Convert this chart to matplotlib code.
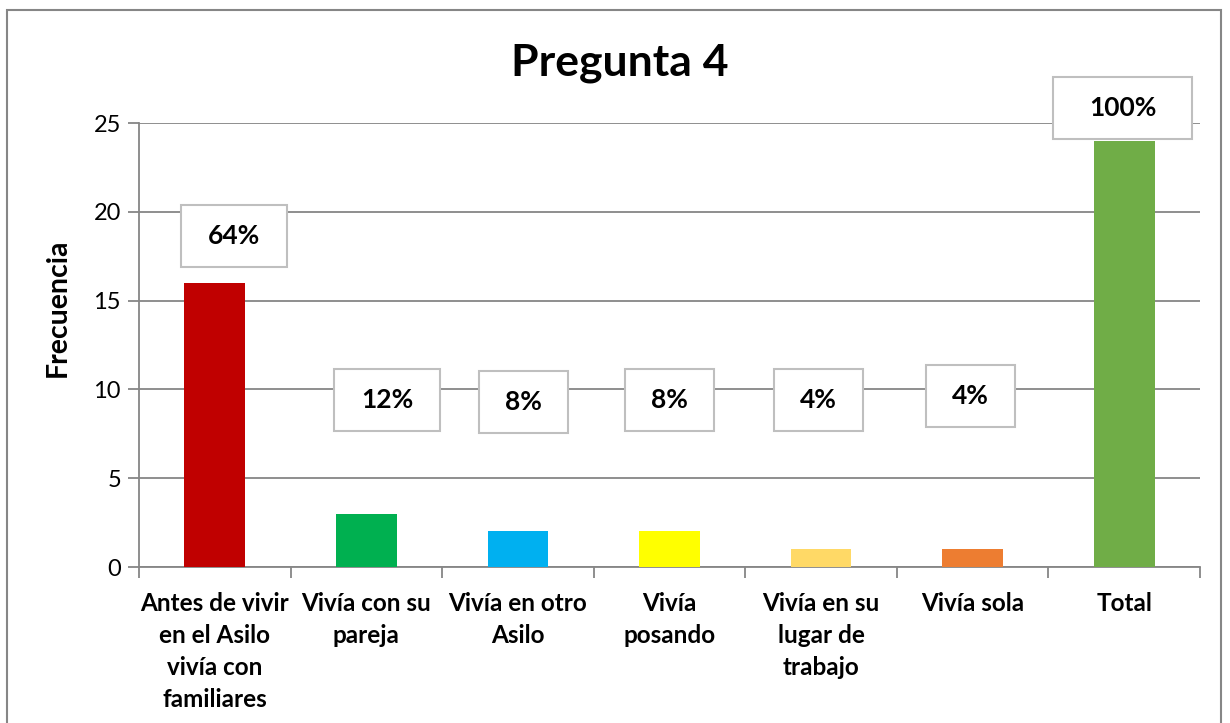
import matplotlib
matplotlib.use("Agg")
import matplotlib.pyplot as plt
from matplotlib.patches import Rectangle

categories = ["Antes de vivir\nen el Asilo\nvivía con\nfamiliares", "Vivía con su\npareja",
              "Vivía en otro\nAsilo", "Vivía\nposando", "Vivía en su\nlugar de\ntrabajo",
              "Vivía sola", "Total"]
values = [16, 3, 2, 2, 1, 1, 24]
percent_labels = ["64%", "12%", "8%", "8%", "4%", "4%", "100%"]
colors = ["#C00000", "#00B050", "#00B0F0", "#FFFF00", "#FFD966", "#ED7D31", "#70AD47"]
yticks = [0, 5, 10, 15, 20, 25]

plt.rcParams['font.family'] = ['Lato', 'DejaVu Sans']

W, H = 1230, 723
fig = plt.figure(figsize=(W / 100, H / 100), dpi=100)
fig.patch.set_facecolor("white")
ax = fig.add_axes([139 / W, 1 - 567 / H, (1200 - 139) / W, (567 - 123) / H])

x = list(range(len(values)))
ax.bar(x, values, width=0.4, color=colors, zorder=3)
ax.set_xlim(-0.5, 6.5)
ax.set_ylim(0, 25)

grid_c = "#868686"
ax.set_yticks(yticks)
ax.yaxis.grid(True, color=grid_c, linewidth=1.3, zorder=0)
ax.set_axisbelow(True)
for s in ["top", "right"]:
    ax.spines[s].set_visible(False)
for s in ["left", "bottom"]:
    ax.spines[s].set_color(grid_c)
    ax.spines[s].set_linewidth(1.3)
ax.tick_params(axis="y", length=8, width=1.3, color=grid_c, labelsize=17, pad=5)
ax.set_xticks(x)
ax.set_xticklabels(categories, fontsize=17.5, fontweight="bold", linespacing=1.48, va="top")
ax.tick_params(axis="x", which="major", length=0, pad=18)
ax.set_xticks([i - 0.5 for i in range(len(values) + 1)], minor=True)
ax.tick_params(axis="x", which="minor", length=8, width=1.3, color=grid_c)

# label boxes: (dx offset from bar center, y center, width, height) in data units
box_dx = [0.125, 0.139, 0.036, 0.0, -0.02, -0.016, -0.01]
box_y = [18.61, 9.40, 9.29, 9.40, 9.40, 9.63, 25.84]
box_w = [0.70, 0.70, 0.587, 0.587, 0.587, 0.587, 0.917]
box_h = 3.49
for i, lab in enumerate(percent_labels):
    cx = x[i] + box_dx[i]
    cy = box_y[i]
    ax.add_patch(Rectangle((cx - box_w[i] / 2, cy - box_h / 2), box_w[i], box_h,
                           facecolor="white", edgecolor="#BFBFBF", linewidth=1.5,
                           zorder=4, clip_on=False))
    ax.text(cx, cy, lab, ha="center", va="center", fontsize=19, fontweight="bold",
            zorder=5, clip_on=False)

fig.text(620 / W, 1 - 63 / H, "Pregunta 4", ha="center", va="center",
         fontsize=32, fontweight="bold")
fig.text(58 / W, 1 - 308 / H, "Frecuencia", ha="center", va="center",
         rotation=90, fontsize=20.5, fontweight="bold")

fig.add_artist(Rectangle((7 / W, -0.05), (1221 - 7) / W, 1 - 10 / H + 0.05,
                         transform=fig.transFigure, fill=False,
                         edgecolor="#868686", linewidth=1.5))

fig.savefig("out.png", dpi=100)
